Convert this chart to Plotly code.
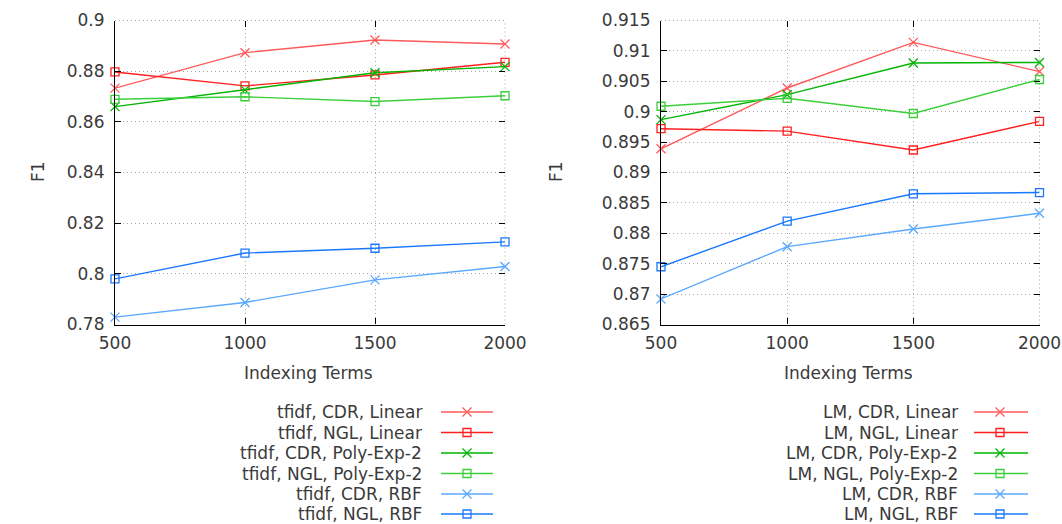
import plotly.graph_objects as go

# ---------------- data ----------------
terms = [500, 1000, 1500, 2000]

tfidf_names = ["tfidf, CDR, Linear", "tfidf, NGL, Linear", "tfidf, CDR, Poly-Exp-2",
               "tfidf, NGL, Poly-Exp-2", "tfidf, CDR, RBF", "tfidf, NGL, RBF"]
tfidf_cdr_linear = [0.8733, 0.8873, 0.8923, 0.8907]
tfidf_ngl_linear = [0.8797, 0.8742, 0.8785, 0.8835]
tfidf_cdr_poly = [0.8660, 0.8726, 0.8794, 0.8818]
tfidf_ngl_poly = [0.8689, 0.8699, 0.8680, 0.8703]
tfidf_cdr_rbf = [0.7829, 0.7887, 0.7976, 0.8029]
tfidf_ngl_rbf = [0.7980, 0.8082, 0.8101, 0.8126]

lm_names = ["LM, CDR, Linear", "LM, NGL, Linear", "LM, CDR, Poly-Exp-2",
            "LM, NGL, Poly-Exp-2", "LM, CDR, RBF", "LM, NGL, RBF"]
lm_cdr_linear = [0.8939, 0.9039, 0.9114, 0.9066]
lm_ngl_linear = [0.8972, 0.8968, 0.8937, 0.8984]
lm_cdr_poly = [0.8987, 0.9028, 0.9080, 0.9081]
lm_ngl_poly = [0.9009, 0.9022, 0.8997, 0.9053]
lm_cdr_rbf = [0.8692, 0.8778, 0.8807, 0.8833]
lm_ngl_rbf = [0.8745, 0.8820, 0.8865, 0.8867]

left_yticks = [0.78, 0.80, 0.82, 0.84, 0.86, 0.88, 0.90]
left_yticktext = ["0.78", "0.8", "0.82", "0.84", "0.86", "0.88", "0.9"]
right_yticks = [0.865, 0.87, 0.875, 0.88, 0.885, 0.89, 0.895, 0.9, 0.905, 0.91, 0.915]
right_yticktext = ["0.865", "0.87", "0.875", "0.88", "0.885", "0.89", "0.895",
                   "0.9", "0.905", "0.91", "0.915"]
xticks = [500, 1000, 1500, 2000]
xticktext = ["500", "1000", "1500", "2000"]

# ---------------- style ----------------
colors = ["#ff5a5a", "#ff1f1f", "#00b400", "#3ccf3c", "#5aa8ff", "#1a78ff"]
symbols = ["x-thin-open", "square-open", "x-thin-open", "square-open", "x-thin-open", "square-open"]
FONT = "DejaVu Sans"
FS = 17
TXT = "#3a3a3a"
W, H = 1062, 524

def px_x(p):
    return p / W

def px_y(p):
    return 1 - p / H

fig = go.Figure()

left_series = [tfidf_cdr_linear, tfidf_ngl_linear, tfidf_cdr_poly, tfidf_ngl_poly,
               tfidf_cdr_rbf, tfidf_ngl_rbf]
right_series = [lm_cdr_linear, lm_ngl_linear, lm_cdr_poly, lm_ngl_poly,
                lm_cdr_rbf, lm_ngl_rbf]

def mk(i):
    return dict(symbol=symbols[i], size=9 if i % 2 == 0 else 8,
                color=colors[i], line=dict(color=colors[i], width=1.3))

for i, ys in enumerate(left_series):
    fig.add_trace(go.Scatter(x=terms, y=ys, mode="lines+markers", xaxis="x", yaxis="y",
                             line=dict(color=colors[i], width=1.4), marker=mk(i),
                             showlegend=False, cliponaxis=False))
for i, ys in enumerate(right_series):
    fig.add_trace(go.Scatter(x=terms, y=ys, mode="lines+markers", xaxis="x2", yaxis="y2",
                             line=dict(color=colors[i], width=1.4), marker=mk(i),
                             showlegend=False, cliponaxis=False))

# empty traces for the mirrored tick axes
fig.add_trace(go.Scatter(x=[None], y=[None], xaxis="x3", yaxis="y3", showlegend=False))
fig.add_trace(go.Scatter(x=[None], y=[None], xaxis="x4", yaxis="y4", showlegend=False))

# legend samples on a pixel overlay axis
leg_rows = [412, 432.5, 453, 473.5, 494, 514]
for block, (lx0, lx1, mx, tx, names) in enumerate([
        (441, 493, 467, 424, tfidf_names),
        (974, 1028, 1000, 960, lm_names)]):
    for i, name in enumerate(names):
        yy = leg_rows[i]
        fig.add_trace(go.Scatter(x=[lx0, lx1], y=[yy, yy], mode="lines", xaxis="x5", yaxis="y5",
                                 line=dict(color=colors[i], width=1.4), showlegend=False))
        fig.add_trace(go.Scatter(x=[mx], y=[yy], mode="markers", xaxis="x5", yaxis="y5",
                                 marker=mk(i), showlegend=False))
        fig.add_annotation(x=px_x(tx), y=px_y(yy), xref="paper", yref="paper",
                           text=name, showarrow=False, xanchor="right", yanchor="middle",
                           font=dict(family=FONT, size=FS, color=TXT))

ldom = [px_x(115), px_x(505)]
rdom = [px_x(661), px_x(1039.5)]
ydom = [px_y(324.5), px_y(20.5)]

GRID = "#a8a8a8"
GDASH = "1px,3px"
common_x = dict(range=[500, 2000], tickvals=xticks, ticktext=xticktext, automargin=False,
                showline=True, linecolor="black", linewidth=1.2,
                ticks="inside", ticklen=6, tickcolor="black", tickwidth=1,
                ticklabelstandoff=3,
                showgrid=True, gridcolor=GRID, griddash=GDASH, gridwidth=1,
                zeroline=False, tickfont=dict(family=FONT, size=FS, color=TXT))
common_y = dict(showline=True, linecolor="black", linewidth=1.2, automargin=False,
                ticks="inside", ticklen=6, tickcolor="black", tickwidth=1,
                ticklabelstandoff=6,
                showgrid=True, gridcolor=GRID, griddash=GDASH, gridwidth=1,
                zeroline=False, tickfont=dict(family=FONT, size=FS, color=TXT))
mirror_x = dict(range=[500, 2000], tickvals=xticks, ticks="inside", ticklen=6,
                tickcolor="black", showticklabels=False, showgrid=False, showline=False,
                zeroline=False, automargin=False)
mirror_y = dict(ticks="inside", ticklen=6, tickcolor="black", showticklabels=False,
                showgrid=False, showline=False, zeroline=False, automargin=False)

fig.update_layout(
    template="none",
    width=W, height=H,
    margin=dict(l=0, r=0, t=0, b=0, autoexpand=False),
    paper_bgcolor="white", plot_bgcolor="rgba(0,0,0,0)",
    xaxis=dict(domain=ldom, anchor="y", **common_x),
    yaxis=dict(domain=ydom, anchor="x", range=[0.78, 0.90], tickvals=left_yticks,
               ticktext=left_yticktext, **common_y),
    xaxis2=dict(domain=rdom, anchor="y2", **common_x),
    yaxis2=dict(domain=ydom, anchor="x2", range=[0.865, 0.915], tickvals=right_yticks,
                ticktext=right_yticktext, **common_y),
    xaxis3=dict(overlaying="x", side="top", anchor="y3", **mirror_x),
    yaxis3=dict(overlaying="y", side="right", anchor="x3", range=[0.78, 0.90],
                tickvals=left_yticks, **mirror_y),
    xaxis4=dict(overlaying="x2", side="top", anchor="y4", **mirror_x),
    yaxis4=dict(overlaying="y2", side="right", anchor="x4", range=[0.865, 0.915],
                tickvals=right_yticks, **mirror_y),
    xaxis5=dict(domain=[0, 1], range=[0, W], visible=False, anchor="y5", automargin=False),
    yaxis5=dict(domain=[0, 1], range=[H, 0], visible=False, anchor="x5", automargin=False),
    showlegend=False,
)

# dotted frame edges (top and right), like the reference grid border
for xr, yr in [("x domain", "y domain"), ("x2 domain", "y2 domain")]:
    fig.add_shape(type="line", xref=xr, yref=yr, x0=0, x1=1, y0=1, y1=1,
                  line=dict(color=GRID, width=1, dash=GDASH), layer="below")
    fig.add_shape(type="line", xref=xr, yref=yr, x0=1, x1=1, y0=0, y1=1,
                  line=dict(color=GRID, width=1, dash=GDASH), layer="below")

# axis titles
for x, y, t, ang in [(308, 373, "Indexing Terms", 0), (848, 373, "Indexing Terms", 0),
                     (38, 172, "F1", -90), (556, 172, "F1", -90)]:
    fig.add_annotation(x=px_x(x), y=px_y(y), xref="paper", yref="paper", text=t,
                       showarrow=False, textangle=ang, xanchor="center", yanchor="middle",
                       font=dict(family=FONT, size=FS, color=TXT))

fig.write_html("out.html")
